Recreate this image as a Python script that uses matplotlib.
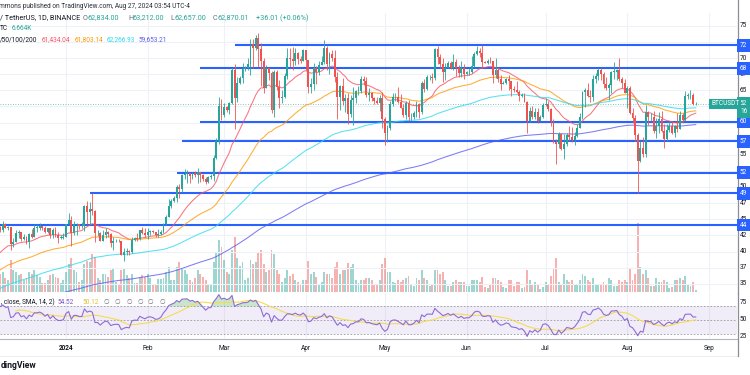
import numpy as np
import pandas as pd
import matplotlib
matplotlib.use("Agg")
import matplotlib.pyplot as plt
import matplotlib.dates as mdates
from matplotlib.transforms import blended_transform_factory
from matplotlib.lines import Line2D

plt.rcParams['font.family'] = ['Roboto', 'DejaVu Sans']

# ---------------- data (prices in thousand USDT) ----------------
first_day = "2023-12-05"
last_day = "2024-08-27"

# closes Nov 15 - Dec 4 2023 (only used to warm up the RSI)
warmup_closes = [37.9, 36.2, 36.6, 36.6, 37.4, 37.5, 35.8, 37.4, 37.3, 37.7,
                 37.8, 37.5, 37.2, 37.8, 37.9, 37.7, 38.7, 39.5, 40.0, 42.0]

closes = [
    # Dec 5-31
    44.1, 43.8, 43.3, 44.2, 43.7, 43.8, 41.2, 41.5, 42.9, 43.0, 41.9, 42.3, 41.4, 42.7,
    42.3, 43.7, 43.7, 44.0, 43.7, 43.0, 43.6, 42.5, 43.4, 42.6, 42.1, 42.1, 42.3,
    # Jan
    44.2, 44.9, 42.8, 44.2, 44.2, 43.9, 43.9, 47.0, 46.1, 46.6, 46.3, 42.8, 42.8, 41.7, 42.5,
    43.1, 42.7, 41.3, 41.6, 41.7, 41.6, 39.5, 39.9, 40.1, 39.9, 41.8, 42.1, 42.0, 43.3, 42.9, 42.6,
    # Feb
    43.1, 43.2, 43.0, 42.6, 42.7, 43.1, 44.3, 45.3, 47.1, 47.8, 48.3, 50.0, 49.7, 51.8, 52.0,
    52.1, 51.7, 52.1, 51.8, 52.3, 51.8, 51.3, 50.7, 51.6, 51.7, 54.5, 57.1, 62.5, 61.2,
    # Mar
    62.4, 62.0, 63.1, 68.2, 63.8, 66.1, 66.9, 68.3, 68.5, 69.0, 72.1, 71.5, 73.1, 71.4, 69.5,
    65.3, 68.4, 67.6, 62.0, 67.9, 65.5, 63.8, 64.0, 67.2, 70.0, 69.9, 69.5, 70.8, 69.9, 69.6, 71.3,
    # Apr
    69.7, 65.5, 66.0, 68.5, 67.8, 68.9, 69.4, 71.6, 69.1, 70.6, 70.0, 67.1, 64.0, 65.7, 63.4,
    63.8, 61.3, 63.5, 63.8, 64.9, 64.9, 66.8, 66.4, 64.3, 64.5, 63.8, 63.4, 63.1, 63.8, 60.6,
    # May
    58.3, 59.1, 62.9, 63.9, 64.0, 63.2, 62.3, 61.2, 63.1, 60.8, 60.8, 61.5, 62.9, 61.6, 66.2,
    65.2, 67.0, 67.0, 66.9, 71.4, 70.1, 69.1, 67.9, 68.5, 69.3, 68.5, 69.4, 68.4, 67.6, 68.4, 67.5,
    # Jun
    67.8, 67.8, 68.8, 70.6, 71.1, 70.8, 69.4, 69.3, 69.6, 69.5, 67.3, 68.2, 66.8, 66.0, 66.2,
    66.7, 66.5, 65.2, 65.0, 64.8, 64.1, 64.3, 63.2, 60.3, 61.8, 60.9, 61.6, 60.3, 60.9, 62.7,
    # Jul
    62.9, 62.1, 60.2, 57.0, 56.7, 58.2, 55.9, 56.7, 58.0, 57.7, 57.3, 57.9, 59.2, 60.8, 64.7,
    65.1, 64.1, 63.9, 66.7, 67.2, 68.2, 67.5, 65.9, 65.4, 65.8, 67.9, 67.9, 68.2, 66.8, 66.2, 64.6,
    # Aug 1-27
    65.4, 61.5, 60.7, 58.1, 54.0, 56.0, 55.1, 61.7, 60.8, 60.9, 58.7, 59.4, 60.6, 58.7, 57.5,
    58.9, 59.5, 58.4, 59.5, 59.0, 61.2, 60.4, 64.1, 64.2, 64.2, 62.83, 62.87,
]

highs = [
    44.4, 44.3, 44.0, 44.7, 44.4, 44.0, 43.8, 42.1, 43.4, 43.4, 43.1, 42.7, 42.4, 42.8,
    43.5, 44.3, 44.2, 44.4, 44.0, 43.9, 43.7, 43.6, 43.7, 43.8, 43.1, 42.6, 42.9,
    44.2, 45.9, 45.5, 44.8, 44.4, 44.2, 44.5, 47.2, 47.9, 47.7, 49.0, 46.5, 43.3, 43.0, 43.4,
    43.6, 43.2, 42.9, 42.2, 41.9, 41.9, 41.7, 40.5, 40.6, 40.3, 42.2, 42.2, 42.8, 43.4, 43.8, 43.7,
    43.7, 43.4, 43.4, 43.1, 43.5, 43.4, 44.4, 45.6, 48.2, 48.2, 48.6, 50.3, 50.4, 52.0, 52.8,
    52.6, 52.2, 52.4, 52.5, 52.9, 52.4, 52.0, 51.5, 51.7, 52.0, 54.9, 57.6, 64.0, 63.7,
    63.0, 62.5, 63.2, 68.5, 69.0, 67.0, 67.2, 69.3, 68.8, 70.0, 72.9, 73.0, 73.6, 73.8, 72.4,
    70.0, 68.9, 68.2, 68.0, 68.1, 68.2, 66.6, 65.0, 67.6, 71.5, 71.5, 71.7, 71.6, 70.9, 70.3, 71.4,
    71.3, 69.7, 66.9, 69.3, 68.7, 69.5, 70.3, 72.8, 71.8, 71.0, 71.3, 71.2, 67.9, 65.8, 66.9,
    64.4, 64.5, 64.3, 65.5, 65.0, 65.7, 67.2, 67.2, 67.1, 65.3, 64.8, 63.9, 64.0, 64.2, 64.7,
    60.8, 59.6, 63.3, 64.5, 64.6, 65.5, 64.4, 62.9, 63.4, 63.5, 61.5, 61.8, 63.4, 63.1, 66.4,
    66.7, 67.4, 67.4, 67.7, 71.5, 71.9, 70.6, 70.0, 69.2, 69.6, 69.5, 70.6, 69.9, 68.9, 69.5, 69.0,
    68.0, 68.4, 70.3, 71.0, 71.8, 71.6, 72.0, 69.6, 69.9, 70.2, 69.6, 70.0, 68.4, 67.3, 66.4,
    66.9, 67.3, 66.5, 65.7, 66.5, 65.0, 64.5, 64.5, 63.4, 62.4, 62.5, 62.3, 62.2, 61.2, 63.0,
    63.8, 63.3, 62.3, 60.5, 57.5, 58.5, 58.2, 58.2, 58.3, 59.5, 59.3, 58.6, 59.8, 61.4, 64.9,
    65.4, 66.1, 65.1, 67.4, 67.6, 68.4, 68.5, 67.8, 67.1, 66.1, 68.0, 69.4, 68.3, 70.0, 67.0, 66.8,
    65.6, 65.6, 62.2, 61.1, 58.3, 57.1, 57.8, 62.7, 61.8, 61.5, 61.8, 60.7, 61.6, 61.8, 59.8,
    59.8, 60.3, 60.3, 59.6, 61.4, 61.8, 61.4, 64.9, 64.5, 65.0, 64.5, 63.21,
]

lows = [
    41.9, 43.4, 43.1, 43.1, 43.6, 43.4, 40.2, 40.7, 41.4, 42.1, 41.7, 41.8, 41.2, 40.5,
    42.1, 42.2, 43.1, 43.4, 43.3, 42.8, 42.8, 42.1, 42.1, 42.3, 41.3, 41.9, 42.0,
    42.2, 44.2, 40.8, 42.6, 42.6, 43.5, 43.7, 43.2, 44.3, 44.3, 45.6, 41.5, 42.4, 41.6, 41.7,
    42.1, 42.2, 40.7, 40.3, 41.4, 41.5, 39.4, 38.6, 39.5, 39.5, 39.8, 41.7, 41.6, 41.8, 42.7, 42.3,
    41.9, 42.6, 42.9, 42.2, 42.3, 42.6, 42.8, 44.1, 45.3, 46.8, 47.6, 47.7, 48.3, 49.2, 51.3,
    50.6, 50.6, 51.2, 51.6, 50.6, 50.8, 50.9, 50.5, 50.6, 51.3, 50.9, 54.4, 56.7, 60.4,
    60.8, 61.6, 61.3, 62.9, 59.0, 63.2, 66.0, 66.1, 68.0, 68.1, 67.3, 68.5, 71.3, 68.6, 65.6,
    64.6, 65.3, 66.6, 61.5, 60.8, 65.0, 62.3, 63.0, 63.8, 66.8, 68.6, 68.2, 68.9, 69.1, 69.3, 69.6,
    68.2, 64.6, 64.5, 65.1, 66.0, 67.4, 68.9, 69.0, 68.2, 67.5, 69.6, 66.3, 60.6, 62.0, 62.7,
    61.6, 59.7, 60.8, 59.6, 63.1, 64.2, 64.5, 65.8, 63.9, 63.3, 63.3, 62.8, 62.8, 61.8, 59.2,
    56.5, 56.9, 58.8, 62.6, 63.4, 63.0, 62.3, 60.9, 60.6, 60.2, 60.4, 60.6, 60.8, 60.7, 61.3,
    64.7, 65.1, 66.6, 66.1, 66.6, 69.1, 68.4, 66.3, 66.6, 68.4, 68.3, 68.2, 67.2, 67.1, 67.1, 66.7,
    67.4, 67.4, 67.6, 68.6, 70.4, 70.1, 68.4, 69.2, 69.1, 69.2, 66.1, 66.9, 66.3, 65.1, 65.9,
    66.0, 65.0, 64.1, 64.7, 64.5, 63.4, 64.0, 63.2, 58.4, 60.1, 60.6, 60.6, 60.0, 60.3, 60.7,
    62.5, 61.8, 59.4, 56.8, 53.5, 56.0, 55.8, 54.3, 56.3, 57.2, 56.9, 56.5, 57.7, 59.2, 60.6,
    62.4, 63.9, 63.2, 63.3, 66.2, 66.6, 66.6, 65.4, 65.1, 63.5, 64.6, 66.7, 66.6, 66.5, 65.3, 64.5,
    62.3, 61.3, 59.9, 57.1, 49.0, 53.9, 54.6, 54.7, 59.6, 60.3, 58.4, 57.6, 58.4, 58.6, 56.1,
    57.2, 58.6, 58.2, 57.7, 58.5, 59.0, 60.0, 60.2, 63.6, 63.7, 62.7, 62.66,
]

# daily volume, thousand BTC
volumes = [
    75, 66, 54, 60, 42, 36, 96, 66, 60, 51, 54, 36, 42, 60, 54, 66, 51, 45, 27, 27, 36, 51, 54, 45, 42, 27, 36,
    60, 84, 102, 66, 60, 30, 36, 84, 93, 90, 114, 105, 42, 36, 54, 54, 45, 66, 69, 30, 24, 66, 69, 51, 42,
    54, 27, 27, 45, 51, 45,
    54, 42, 24, 24, 39, 39, 42, 60, 75, 36, 36, 75, 90, 72, 66, 54, 36, 30, 42, 66, 54, 45, 36, 21, 24,
    90, 120, 156, 135,
    96, 60, 54, 126, 165, 102, 78, 90, 36, 42, 96, 84, 90, 120, 126, 84, 60, 66, 126, 114, 66, 54, 30,
    42, 66, 48, 54, 36, 30, 24, 36,
    36, 93, 54, 60, 45, 24, 30, 60, 54, 54, 42, 75, 90, 54, 66, 66, 87, 75, 84, 36, 27, 36, 36, 42, 42,
    36, 21, 21, 36, 84,
    102, 60, 60, 30, 27, 36, 30, 36, 42, 48, 21, 18, 42, 36, 66, 42, 36, 18, 21, 66, 66, 54, 60, 36, 18,
    18, 30, 36, 30, 30, 30,
    18, 18, 36, 36, 36, 30, 45, 15, 12, 21, 42, 42, 36, 30, 15, 12, 36, 36, 18, 30, 30, 12, 15, 66, 36,
    24, 30, 24, 9, 15,
    30, 24, 48, 69, 102, 30, 24, 54, 36, 30, 36, 24, 24, 36, 54, 48, 36, 30, 42, 24, 21, 24, 30, 24, 42,
    36, 18, 18, 36, 30, 36,
    30, 69, 36, 54, 207, 75, 54, 66, 42, 18, 18, 42, 30, 30, 36, 30, 12, 15, 36, 36, 42, 36, 48, 21, 18,
    30, 6.664,
]

# starting values of the EMAs on the first candle
ema_lengths = [20, 50, 100, 200]
ema_start = [39.0, 36.6, 33.9, 30.9]
ema_colors = ["#f7525f", "#ff9800", "#2fd9ef", "#5c5cf0"]
legend_ema_values = ["61,434.04", "61,803.14", "62,266.93", "59,653.21"]
legend_rsi_values = ["54.52", "50.12"]

# support / resistance lines: level and start date
levels = [72.0, 68.4, 60.1, 57.1, 52.2, 49.0, 44.1]
level_labels = ["72", "68", "60", "57", "52", "49", "44"]
level_starts = ["2024-03-05", "2024-02-21", "2024-02-21", "2024-02-14", "2024-02-12",
                "2024-01-10", "2023-11-01"]

# price scale (labels as visible at the cropped right edge)
price_ticks = [75.0, 72.5, 70.0, 67.5, 65.0, 62.5, 60.0, 57.5, 55.0, 52.5, 50.0, 47.5, 45.0,
               42.5, 40.0, 37.5, 35.0]
price_tick_labels = ["75", "72", "70", "67", "65", "62", "60", "57", "55", "52", "50", "47", "45",
                     "42", "40", "37", "35"]
rsi_ticks = [75, 50, 25]

month_ticks = ["2024-01-01", "2024-02-01", "2024-03-01", "2024-04-01", "2024-05-01",
               "2024-06-01", "2024-07-01", "2024-08-01", "2024-09-01"]
month_labels = ["2024", "Feb", "Mar", "Apr", "May", "Jun", "Jul", "Aug", "Sep"]

# ---------------- derived series ----------------
dates = pd.date_range(first_day, last_day, freq="D")
x = mdates.date2num(dates)
c = np.array(closes)
h = np.array(highs)
l = np.array(lows)
o = np.concatenate([[warmup_closes[-1]], c[:-1]])
o[-1] = 62.834
v = np.array(volumes)
up = c >= o

def ema(vals, n, seed):
    k = 2.0 / (n + 1)
    out = [seed]
    for val in vals[1:]:
        out.append(out[-1] + k * (val - out[-1]))
    return np.array(out)

emas = [ema(c, n, s) for n, s in zip(ema_lengths, ema_start)]

allc = np.concatenate([warmup_closes, c])
d = np.diff(allc)
g = np.clip(d, 0, None)
ls = np.clip(-d, 0, None)
n = 14
ag, al = g[:n].mean(), ls[:n].mean()
rsi_all = [np.nan] * n
for i in range(n, len(d)):
    ag = (ag * (n - 1) + g[i]) / n
    al = (al * (n - 1) + ls[i]) / n
    rsi_all.append(100 - 100 / (1 + ag / al) if al > 0 else 100)
rsi_all = np.array([np.nan] + rsi_all)
rsi_ma_all = pd.Series(rsi_all).rolling(14).mean().values
off = len(warmup_closes)
rsi = rsi_all[off:]
rsi_ma = rsi_ma_all[off:]

# ---------------- layout ----------------
W, H = 750, 375
fig = plt.figure(figsize=(7.5, 3.75), dpi=100)
fig.patch.set_facecolor("white")

def fx(px):
    return px / W

def fy(py):
    return 1 - py / H

PLOT_R = 737
MAIN_T, MAIN_B = 13, 292
RSI_T, RSI_B = 293, 338
PX_PER_K = 6.45
Y70 = 58
main_ylim = (70 - (MAIN_B - Y70) / PX_PER_K, 70 + (Y70 - MAIN_T) / PX_PER_K)

jan1 = mdates.date2num(pd.Timestamp("2024-01-01"))
px_per_day = 2.635
xlim = (jan1 - 66 / px_per_day, jan1 + (PLOT_R - 66) / px_per_day)

main_pos = [0, fy(MAIN_B), fx(PLOT_R), (MAIN_B - MAIN_T) / H]
ax_vol = fig.add_axes(main_pos, zorder=1)
ax = fig.add_axes(main_pos, zorder=2)
ax.patch.set_alpha(0)
ax_rsi = fig.add_axes([0, fy(RSI_B), fx(PLOT_R), (RSI_B - RSI_T) / H], zorder=2)

for a in (ax_vol, ax, ax_rsi):
    a.set_xlim(*xlim)
    for s in a.spines.values():
        s.set_visible(False)
    a.set_xticks([])
    a.set_yticks([])

grid_c = "#eef1f7"
mt = mdates.date2num(pd.to_datetime(month_ticks))

# volume
ax_vol.set_ylim(0, (MAIN_B - MAIN_T) * 3.0)
ax_vol.bar(x, v, width=0.72, color=np.where(up, "#26a69a", "#ef5350"), alpha=0.45, linewidth=0)
for m in mt:
    ax_vol.axvline(m, color=grid_c, lw=0.8, zorder=0)

# main price
ax.set_ylim(*main_ylim)
for gv in price_ticks:
    ax.axhline(gv, color=grid_c, lw=0.8, zorder=0)

for yy, sd in zip(levels, level_starts):
    ax.hlines(yy, mdates.date2num(pd.Timestamp(sd)), xlim[1], color="#2962ff", lw=1.5, zorder=3)

for e, col in zip(emas, ema_colors):
    ax.plot(x, e, color=col, lw=0.75, alpha=0.8, zorder=4)

cc = np.where(up, "#26a69a", "#ef5350")
ax.vlines(x, l, h, colors=cc, lw=0.6, zorder=5)
body_lo = np.minimum(o, c)
body_h = np.maximum(np.abs(c - o), 0.08)
ax.bar(x, body_h, bottom=body_lo, width=0.72, color=cc, linewidth=0, zorder=6)

# current price line
ax.axhline(c[-1], color="#26a69a", lw=0.6, ls=(0, (1, 2)), zorder=2, alpha=0.8)

# RSI pane
ax_rsi.set_ylim(23.5, 89.7)
for m in mt:
    ax_rsi.axvline(m, color=grid_c, lw=0.8, zorder=0)
ax_rsi.axhspan(30, 70, color="#7e57c2", alpha=0.1, lw=0)
for lv in (70, 50, 30):
    ax_rsi.axhline(lv, color="#9598a1", lw=0.6, ls=(0, (2, 2)))
ax_rsi.fill_between(x, 70, rsi, where=rsi > 70, color="#4caf50", alpha=0.3, lw=0, interpolate=True)
ax_rsi.fill_between(x, 30, rsi, where=rsi < 30, color="#f23645", alpha=0.25, lw=0, interpolate=True)
ax_rsi.plot(x, rsi_ma, color="#f5dc50", lw=0.8)
ax_rsi.plot(x, rsi, color="#8e6bd6", lw=0.8)

# frame lines
fig.add_artist(Line2D([0, fx(PLOT_R)], [fy(MAIN_B + 0.5)] * 2, color="#e0e3eb", lw=0.7))
fig.add_artist(Line2D([0, fx(PLOT_R)], [fy(RSI_B + 0.5)] * 2, color="#b2b5be", lw=0.8))
fig.add_artist(Line2D([0, fx(PLOT_R)], [fy(356)] * 2, color="#eceef3", lw=0.7))
fig.add_artist(Line2D([fx(PLOT_R + 0.5)] * 2, [fy(0), fy(356)], color="#8b8e97", lw=0.9))

# ---------------- texts ----------------
FS = 4.7
tcol = "#131722"
gray = "#6a6d78"
LX = 1 + 3 / PLOT_R

# price scale labels (hidden where a coloured label sits on top)
tr = blended_transform_factory(ax.transAxes, ax.transData)
box_vals = levels + [c[-1]]
for gv, lab in zip(price_ticks, price_tick_labels):
    if min(abs(gv - b) for b in box_vals) * PX_PER_K < 5.5:
        continue
    ax.text(LX, gv, lab, transform=tr, fontsize=FS, color=tcol,
            va="center", ha="left", clip_on=False)
for yy, lab in zip(levels, level_labels):
    ax.text(LX, yy, lab, transform=tr, fontsize=FS, color="white",
            va="center", ha="left", clip_on=False, zorder=10,
            bbox=dict(boxstyle="square,pad=0.45", fc="#2962ff", ec="none"))
ax.text(LX, c[-1] - 0.55, "62\n16", transform=tr, fontsize=FS,
        color="white", va="center", ha="left", clip_on=False, zorder=10, linespacing=1.2,
        bbox=dict(boxstyle="square,pad=0.45", fc="#26a69a", ec="none"))
ax.text(711 / PLOT_R, c[-1], "BTCUSDT", transform=tr, fontsize=FS, color="white",
        va="center", ha="left", zorder=10,
        bbox=dict(boxstyle="square,pad=0.3", fc="#26a69a", ec="none"))

tr2 = blended_transform_factory(ax_rsi.transAxes, ax_rsi.transData)
for rv in rsi_ticks:
    ax_rsi.text(LX, rv, f"{rv}", transform=tr2, fontsize=FS, color=tcol,
                va="center", ha="left", clip_on=False)

# time axis labels
trt = blended_transform_factory(ax_rsi.transData, fig.transFigure)
for m, lab in zip(mt, month_labels):
    ax_rsi.text(m, fy(348), lab, transform=trt, fontsize=FS, color=tcol, ha="center",
                va="center", clip_on=False, fontweight="bold" if lab == "2024" else "normal")

# header and legends
fig.text(fx(-1), fy(7), "mmons published on TradingView.com, Aug 27, 2024 03:54 UTC-4",
         fontsize=FS, color="#2a2e39", va="center", ha="left")

def put(xp, yp, txt, col, fs=FS, **kw):
    fig.text(fx(xp), fy(yp), txt, fontsize=fs, color=col, va="center", ha="left", **kw)

FS1 = 5.2
put(0, 18, "/ TetherUS, 1D, BINANCE", tcol, FS1)
for xp, key, val in [(83, "O", "62,834.00"), (128, "H", "63,212.00"),
                     (170, "L", "62,657.00"), (213, "C", "62,870.01")]:
    put(xp, 18, key, gray, FS1)
    put(xp + 4.5, 18, val, "#26a69a", FS1)
put(256, 18, "+36.01 (+0.06%)", "#26a69a", FS1)

put(0, 29, "TC", tcol)
put(12, 29, "6.664K", "#26a69a")

put(0, 40, "/50/100/200", tcol)
for xp, val, col in zip([42, 75, 107, 139], legend_ema_values, ema_colors):
    put(xp, 40, val, col)

put(1, 302, ", close, SMA, 14, 2)", tcol)
put(58, 302, legend_rsi_values[0], "#7e57c2")
put(83, 302, legend_rsi_values[1], "#e0c030")
for xp in [106, 117, 128, 139, 150, 161]:
    put(xp - 2, 302, "∅", gray)

# footer (left part of the logo text is cropped off in the reference)
put(0.5, 366, "dingView", "#131722", 6.2, fontweight="bold")

fig.savefig("out.png", dpi=100)
